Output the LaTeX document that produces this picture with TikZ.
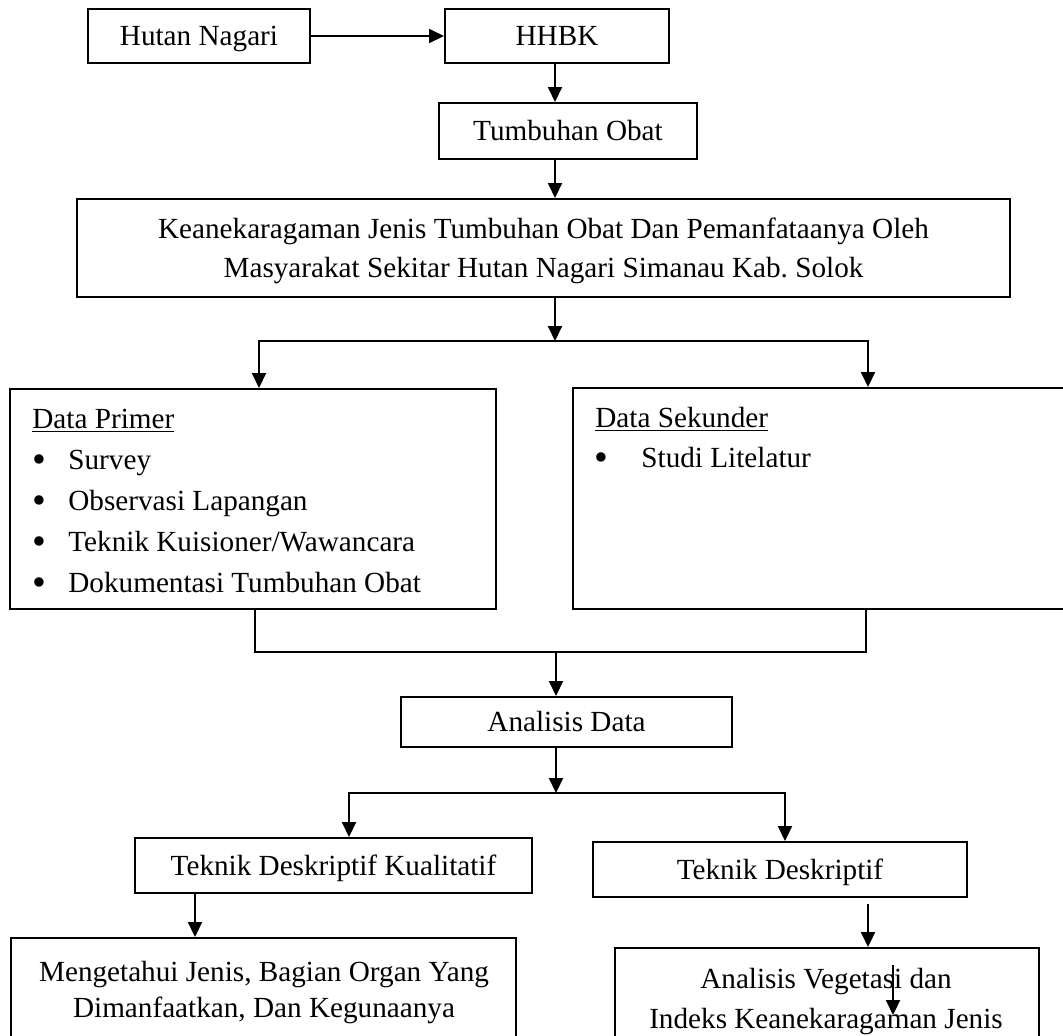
\documentclass[tikz,border=0pt]{standalone}
\usepackage{fontspec}
\usepackage{graphicx}
\setmainfont{Liberation Serif}
\usetikzlibrary{arrows.meta,calc}
\newcommand{\bigbul}{\raisebox{-1.8pt}{\scalebox{1.35}{\textbullet}}}
\begin{document}
\frenchspacing
\begin{tikzpicture}[x=0.5pt,y=-0.5pt,
  every node/.style={font=\fontsize{14.6pt}{20pt}\selectfont},
  box/.style={draw, line width=1pt, inner sep=0pt, rectangle, text height=9.6pt, text depth=0pt},
  arr/.style={line width=1pt, -{Triangle[length=7.5pt,width=7pt]}},
  ln/.style={line width=1pt},
  txt/.style={inner sep=0pt, anchor=base},
  item/.style={inner sep=0pt, anchor=base west}]
\useasboundingbox (0,0) rectangle (1063,1035);
\clip (0,0) rectangle (1063,1035);

% boxes
\node[box, minimum width=111pt, minimum height=27pt] (hutan) at (199,36) {Hutan Nagari};
\node[box, minimum width=112pt, minimum height=27pt] (hhbk) at (557,36) {HHBK};
\node[box, minimum width=129pt, minimum height=28pt] (tumbuhan) at (568,131) {Tumbuhan Obat};
\node[box, minimum width=466.5pt, minimum height=49pt] (judul) at (543.5,248) {};
\node[txt] (judul1) at (543.5,238) {Keanekaragaman Jenis Tumbuhan Obat Dan Pemanfataanya Oleh};
\node[txt] (judul2) at (543.5,277) {Masyarakat Sekitar Hutan Nagari Simanau Kab. Solok};

\node[box, minimum width=243pt, minimum height=110pt] (primer) at (253,499) {};
\node[item] (primerT) at (32,428) {\underline{Data Primer}};
\node[item] (p1) at (32,469) {\makebox[18pt][l]{\bigbul}Survey};
\node[item] (p2) at (32,510) {\makebox[18pt][l]{\bigbul}Observasi Lapangan};
\node[item] (p3) at (32,551) {\makebox[18pt][l]{\bigbul}Teknik Kuisioner/Wawancara};
\node[item] (p4) at (32,592) {\makebox[18pt][l]{\bigbul}Dokumentasi Tumbuhan Obat};

\node[box, minimum width=253.5pt, minimum height=110.5pt] (sekunder) at (826.5,498.5) {};
\node[item] (sekunderT) at (595,427) {\underline{Data Sekunder}};
\node[item] (sk1) at (594,467) {\makebox[23.5pt][l]{\bigbul}Studi Litelatur};

\node[box, minimum width=165.5pt, minimum height=25pt] (analisis) at (566.5,722) {Analisis Data};
\node[box, minimum width=198.5pt, minimum height=27.5pt] (kualitatif) at (333.5,865.5) {Teknik Deskriptif Kualitatif};
\node[box, minimum width=187pt, minimum height=27.5pt] (deskriptif) at (780,869.5) {Teknik Deskriptif};

\node[box, minimum width=252.5pt, minimum height=56pt] (mengetahui) at (263.5,994) {};
\node[txt] (m1) at (264,981) {Mengetahui Jenis, Bagian Organ Yang};
\node[txt] (m2) at (264,1017) {Dimanfaatkan, Dan Kegunaanya};

\node[box, minimum width=212pt, minimum height=51pt] (vegetasi) at (827,999) {};
\node[txt] (v1) at (826,988) {Analisis Vegetasi dan};
\node[txt] (v2) at (826,1028) {Indeks Keanekaragaman Jenis};

% connectors
\draw[arr] (hutan.east) -- (hhbk.west);
\coordinate (sp1) at (555,0);
\draw[arr] (sp1 |- hhbk.south) -- (sp1 |- tumbuhan.north);
\draw[arr] (sp1 |- tumbuhan.south) -- (sp1 |- judul.north);
\coordinate (b1) at (555,341);
\coordinate (b1l) at (259,341);
\coordinate (b1r) at (868,341);
\draw[arr] (sp1 |- judul.south) -- (b1);
\draw[arr] (b1) -| (b1l |- primer.north);
\draw[arr] (b1) -| (b1r |- sekunder.north);

\coordinate (mg) at (556,652);
\coordinate (mgl) at (255,652);
\coordinate (mgr) at (866,652);
\draw[ln] (mgl |- primer.south) |- (mgr) -- (mgr |- sekunder.south);
\draw[arr] (mg) -- (mg |- analisis.north);
\coordinate (b2) at (556,793);
\coordinate (b2l) at (349,793);
\coordinate (b2r) at (785,793);
\draw[arr] (mg |- analisis.south) -- (b2);
\draw[arr] (b2) -| (b2l |- kualitatif.north);
\draw[arr] (b2) -| (b2r |- deskriptif.north);

\coordinate (kq) at (195,0);
\draw[arr] (kq |- kualitatif.south) -- (kq |- mengetahui.north);
\coordinate (dq) at (868,0);
\draw[arr] ($(dq |- deskriptif.south)+(0,6)$) -- (dq |- vegetasi.north);
\coordinate (st1) at (893,965);
\coordinate (st2) at (893,1015);
\draw[arr] (st1) -- (st2);
\end{tikzpicture}
\end{document}
